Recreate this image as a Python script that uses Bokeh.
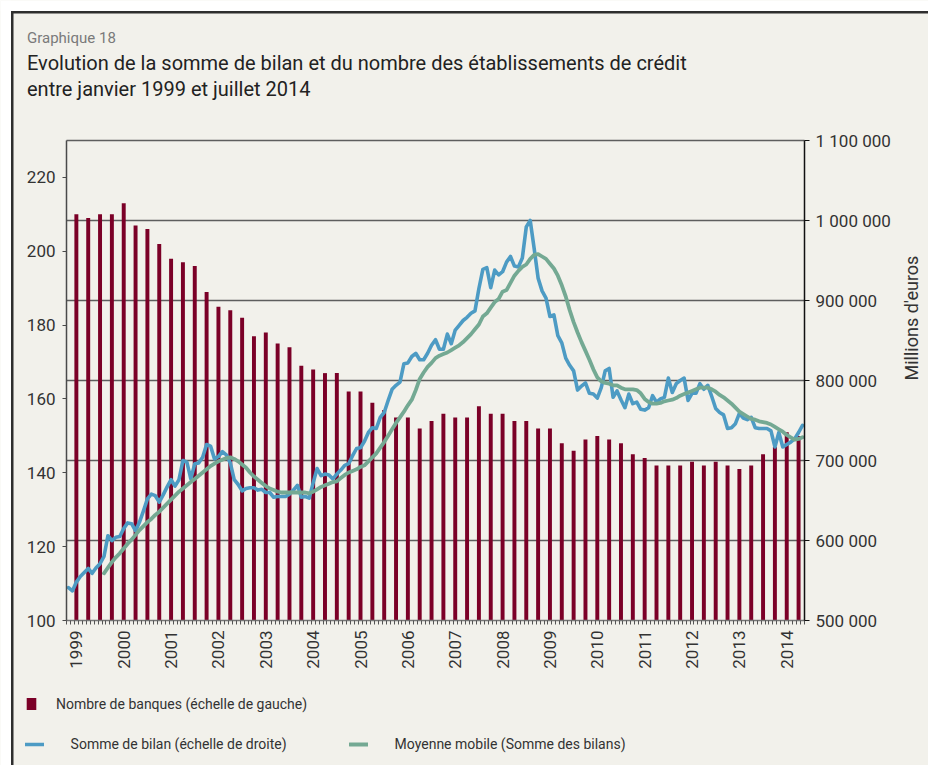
import math
from bokeh.plotting import figure
from bokeh.models import (Range1d, LinearAxis, FixedTicker, Legend, LegendItem,
                          Label, BoxAnnotation)
from bokeh.embed import file_html
from bokeh.resources import INLINE

FONT = "Roboto"
BG = "#f2f1eb"
BAR_COLOR = "#7b0027"
BLUE = "#4d9bc4"
GREEN = "#74a993"

# ---------------- data ----------------
# month index 0 = January 1999 ... 186 = July 2014
months = list(range(187))
year_labels = [str(y) for y in range(1999, 2015)]
year_label_months = [2 + 12 * i for i in range(16)]

# quarterly number of banks (left scale), end of each quarter (Mar 1999 .. Jun 2014)
bar_months = months[2::3]
bank_counts = [
    210, 209, 210, 210, 213, 207, 206, 202, 198, 197,
    196, 189, 185, 184, 182, 177, 178, 175, 174, 169,
    168, 167, 167, 162, 162, 159, 157, 155, 155, 152,
    154, 156, 155, 155, 158, 156, 156, 154, 154, 152,
    152, 148, 146, 149, 150, 149, 148, 145, 144, 142,
    142, 142, 143, 142, 143, 142, 141, 142, 145, 147,
    151, 150,
]

# monthly balance-sheet total, thousands of millions of euros (right scale)
balance_k = [
    541, 537, 548, 555, 560, 565, 559, 566, 571, 580,
    606, 600, 604, 605, 615, 622, 621, 612, 623, 637,
    652, 658, 656, 648, 657, 667, 676, 668, 676, 700,
    698, 677, 696, 697, 704, 720, 718, 702, 705, 711,
    707, 697, 676, 670, 662, 665, 666, 666, 663, 664,
    660, 660, 654, 655, 655, 655, 658, 663, 669, 654,
    655, 653, 672, 690, 681, 683, 682, 677, 683, 688,
    694, 696, 706, 715, 716, 724, 735, 741, 740, 754,
    760, 775, 789, 794, 798, 821, 822, 830, 834, 826,
    826, 834, 844, 851, 839, 839, 858, 846, 863, 869,
    875, 879, 884, 887, 915, 939, 941, 916, 938, 932,
    936, 948, 955, 943, 942, 953, 992, 1000, 965, 928,
    912, 903, 880, 882, 856, 847, 828, 819, 812, 788,
    793, 797, 784, 783, 778, 791, 812, 815, 779, 787,
    776, 766, 783, 771, 773, 764, 763, 766, 781, 773,
    777, 779, 803, 785, 796, 800, 803, 775, 784, 784,
    796, 789, 794, 780, 765, 760, 757, 740, 741, 746,
    759, 753, 751, 754, 741, 740, 740, 740, 737, 717,
    735, 717, 720, 723, 727, 735, 744,
]

# moving average of the balance-sheet total, from October 1999
ma_months = months[9:]
moving_avg_k = [
    559, 566, 573, 579, 584, 590, 596, 601, 607, 613,
    618, 623, 627, 632, 636, 641, 646, 651, 656, 661,
    665, 669, 673, 677, 681, 685, 689, 693, 696, 699,
    701, 703, 704, 702, 699, 695, 691, 685, 680, 676,
    672, 668, 665, 663, 661, 660, 660, 660, 660, 660,
    660, 660, 659, 661, 664, 667, 669, 671, 673, 674,
    678, 682, 685, 687, 689, 692, 694, 699, 704, 709,
    716, 723, 731, 739, 747, 754, 761, 769, 776, 788,
    802, 810, 817, 822, 828, 831, 833, 835, 838, 841,
    844, 848, 853, 858, 864, 870, 880, 884, 891, 898,
    902, 911, 913, 922, 931, 937, 942, 945, 952, 957,
    958, 955, 952, 946, 940, 931, 919, 905, 888, 873,
    860, 848, 837, 826, 814, 804, 799, 797, 796, 794,
    794, 791, 789, 789, 789, 788, 784, 777, 773, 771,
    771, 772, 774, 775, 776, 778, 781, 783, 785, 787,
    789, 791, 791, 791, 789, 786, 782, 779, 775, 771,
    766, 761, 758, 755, 752, 751, 749, 748, 747, 745,
    742, 739, 736, 732, 729, 726, 727, 729,
]

balance = [v * 1000 for v in balance_k]
moving_avg = [v * 1000 for v in moving_avg_k]

left_ticks = [100, 120, 140, 160, 180, 200, 220]
right_ticks = [500000, 600000, 700000, 800000, 900000, 1000000, 1100000]
right_tick_labels = ["500 000", "600 000", "700 000", "800 000", "900 000",
                     "1 000 000", "1 100 000"]
grid_ticks = [600000, 700000, 800000, 900000, 1000000, 1100000]

title_small = "Graphique 18"
title_line1 = "Evolution de la somme de bilan et du nombre des établissements de crédit"
title_line2 = "entre janvier 1999 et juillet 2014"
right_axis_title = "Millions d'euros"
legend_bars = "Nombre de banques (échelle de gauche)"
legend_balance = "Somme de bilan (échelle de droite)"
legend_ma = "Moyenne mobile (Somme des bilans)"

# ---------------- layout constants (canvas pixels) ----------------
W, H = 928, 765
PL, PR, PT, PB = 66, 804, 140, 620          # chart area inside the canvas
X_LO, X_HI = -0.5, 186.5
L_LO, L_HI = 100, 230
R_LO, R_HI = 500000, 1100000

ppx = (PR - PL) / (X_HI - X_LO)
ppl = (PB - PT) / (L_HI - L_LO)
ppr = (PB - PT) / (R_HI - R_LO)

p = figure(width=W, height=H, output_backend="svg", toolbar_location=None,
           x_range=Range1d(X_LO - PL / ppx, X_HI + (W - PR) / ppx),
           y_range=Range1d(L_LO - (H - PB) / ppl, L_HI + PT / ppl),
           min_border_left=0, min_border_right=0, min_border_top=0, min_border_bottom=0,
           background_fill_color=BG, border_fill_color=BG, outline_line_color=None)
p.title.visible = False
p.extra_y_ranges = {"right": Range1d(R_LO - (H - PB) / ppr, R_HI + PT / ppr)}
p.xgrid.visible = False
p.ygrid.visible = False

# horizontal reference lines (right scale) incl. the top border of the chart area
p.segment(x0=X_LO, x1=X_HI, y0=grid_ticks, y1=grid_ticks, y_range_name="right",
          line_color="#5e5e5e", line_width=1.5)

# left axis
ya = p.yaxis[0]
ya.fixed_location = X_LO
ya.bounds = (L_LO, L_HI)
ya.ticker = FixedTicker(ticks=left_ticks)
ya.axis_line_color = "#4a4a4a"
ya.axis_line_width = 1.5
ya.major_tick_out = 4
ya.major_tick_in = 0
ya.major_tick_line_color = "#4a4a4a"
ya.minor_tick_out = 0
ya.minor_tick_in = 0
ya.major_label_text_font = FONT
ya.major_label_text_font_size = "17px"
ya.major_label_text_color = "#333333"
ya.major_label_standoff = 7

# right axis
ra = LinearAxis(y_range_name="right", ticker=FixedTicker(ticks=right_ticks),
                major_label_overrides=dict(zip(right_ticks, right_tick_labels)),
                axis_label=right_axis_title, fixed_location=X_HI, bounds=(R_LO, R_HI))
ra.axis_line_color = "#111111"
ra.axis_line_width = 1.5
ra.major_tick_out = 5
ra.major_tick_in = 0
ra.major_tick_line_color = "#111111"
ra.minor_tick_out = 0
ra.minor_tick_in = 0
ra.major_label_text_font = FONT
ra.major_label_text_font_size = "17px"
ra.major_label_text_color = "#333333"
ra.major_label_standoff = 6
ra.axis_label_text_font = FONT
ra.axis_label_text_font_size = "18px"
ra.axis_label_text_font_style = "normal"
ra.axis_label_text_color = "#333333"
ra.axis_label_standoff = 18
ra.axis_label_orientation = math.pi / 2
p.add_layout(ra, "right")

# bottom axis
xa = p.xaxis[0]
xa.fixed_location = L_LO
xa.bounds = (X_LO, X_HI)
xa.ticker = FixedTicker(ticks=year_label_months,
                        minor_ticks=[m - 0.5 for m in range(len(months) + 1)])
xa.major_label_overrides = dict(zip(year_label_months, year_labels))
xa.major_label_orientation = math.pi / 2
xa.major_tick_out = 0
xa.major_tick_in = 0
xa.minor_tick_out = 4
xa.minor_tick_in = 0
xa.minor_tick_line_color = "#555555"
xa.axis_line_color = "#777777"
xa.axis_line_width = 1.5
xa.major_label_text_font = FONT
xa.major_label_text_font_size = "17px"
xa.major_label_text_color = "#333333"
xa.major_label_standoff = 6

# data
bars = p.vbar(x=bar_months, top=bank_counts, bottom=L_LO, width=1.0,
              fill_color=BAR_COLOR, line_color=None)
l1 = p.line(months, balance, y_range_name="right", line_color=BLUE, line_width=3.6,
            line_join="round", line_cap="round")
l2 = p.line(ma_months, moving_avg, y_range_name="right", line_color=GREEN, line_width=3.8,
            line_join="round", line_cap="round")

# titles (screen units: x from left edge, y up from bottom edge)
def title_label(text, y_from_top, size, color):
    return Label(x=26.5, y=H - y_from_top, x_units="screen", y_units="screen", text=text,
                 text_font=FONT, text_font_size=size, text_color=color,
                 text_baseline="middle")

p.add_layout(title_label(title_small, 37.2, "15px", "#7a7a7a"))
p.add_layout(title_label(title_line1, 62.7, "20px", "#222222"))
p.add_layout(title_label(title_line2, 88.2, "20px", "#222222"))

# legends
common = dict(padding=0, margin=0, border_line_color=None, background_fill_alpha=0,
              label_text_font=FONT, label_text_font_size="14px",
              label_text_color="#333333", label_height=16)
p.add_layout(Legend(items=[LegendItem(label=legend_bars, renderers=[bars])],
                    location=(25, 53.5), glyph_width=12, glyph_height=15,
                    label_standoff=19, **common))
p.add_layout(Legend(items=[LegendItem(label=legend_balance, renderers=[l1]),
                           LegendItem(label=legend_ma, renderers=[l2])],
                    orientation="horizontal", spacing=0, label_width=278,
                    location=(24.6, 13.5), glyph_width=19, glyph_height=16,
                    label_standoff=27, **common))

# outer box of the page (white margin + dark border on top and left)
for kw in [dict(left=0, right=W, top=H, bottom=H - 10.5, fill_color="white"),
           dict(left=0, right=10.5, top=H, bottom=0, fill_color="white"),
           dict(left=10.5, right=W, top=H - 10.5, bottom=H - 13, fill_color="#2e2e2e"),
           dict(left=10.5, right=13, top=H - 10.5, bottom=0, fill_color="#2e2e2e")]:
    p.add_layout(BoxAnnotation(left_units="screen", right_units="screen",
                               top_units="screen", bottom_units="screen",
                               fill_alpha=1, line_color=None, **kw))

open("out.html", "w").write(file_html(p, INLINE))
